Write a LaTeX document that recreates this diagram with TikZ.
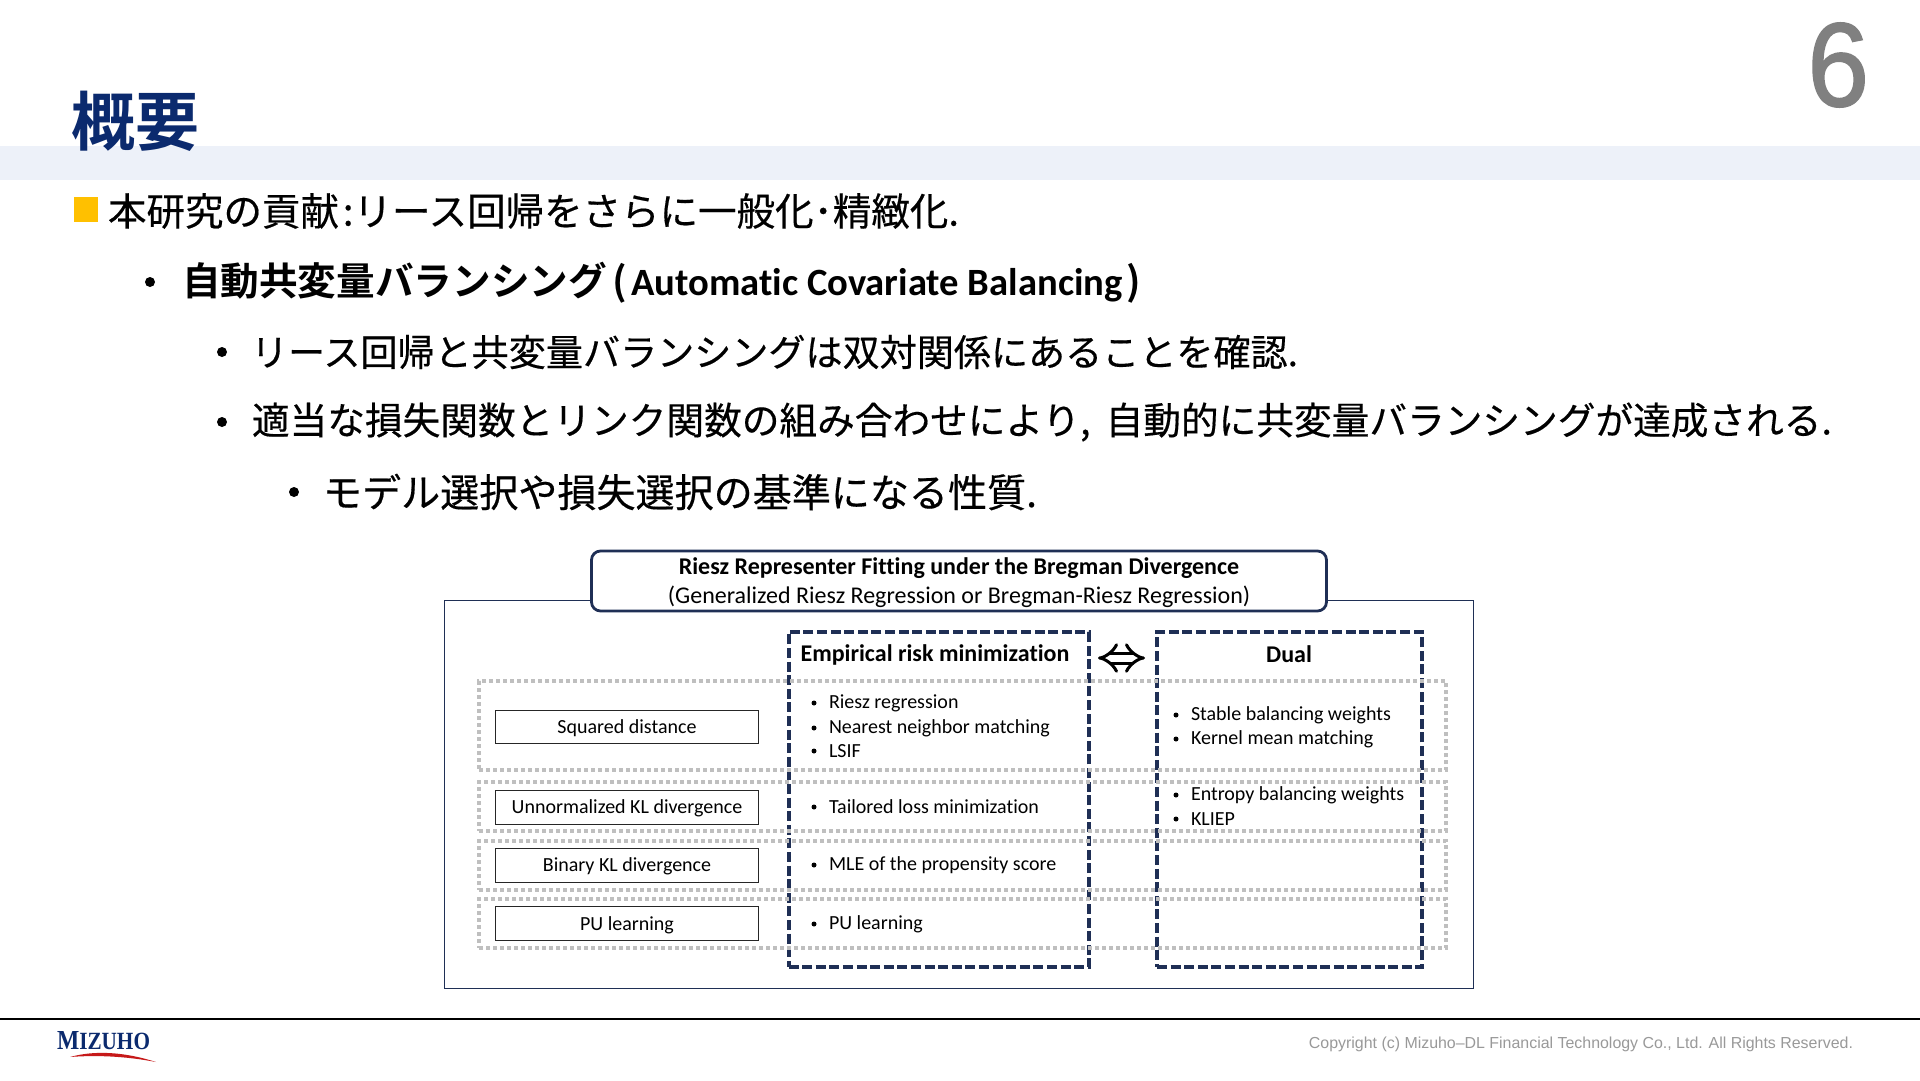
\documentclass[tikz,border=0pt]{standalone}
\usepackage{fontspec}
\usetikzlibrary{arrows.meta,positioning}
\setmainfont[Ligatures=NoCommon]{Carlito}
\newfontfamily\carb[Ligatures=NoCommon]{Carlito Bold}
\newfontfamily\jp[CharacterWidth=Proportional,FakeBold=0.4]{Noto Sans CJK JP}
\newfontfamily\jpb[CharacterWidth=Proportional]{Noto Sans CJK JP Bold}
\newfontfamily\arial{Liberation Sans}
\newfontfamily\sixf[FakeBold=1.5]{Liberation Sans}
\newfontfamily\logof{Liberation Serif}
\definecolor{navy}{HTML}{1F2F55}
\definecolor{titleblue}{HTML}{0B2A6E}
\definecolor{band}{HTML}{EDF1F9}
\definecolor{dotgray}{HTML}{BFBFBF}
\definecolor{gold}{HTML}{FFC000}
\newcommand{\fs}[1]{\fontsize{#1}{#1}\selectfont}
\newcommand{\W}[2]{\resizebox{#1pt}{!}{#2}}
\tikzset{
 x=1pt,y=-1pt,
 every node/.style={outer sep=0pt},
 bodyline/.style={anchor=west,inner sep=0pt,text=black},
 dotrow/.style={draw=dotgray,line width=4pt,dash pattern=on 4.2pt off 2.8pt},
 dualbox/.style={draw=navy,line width=4pt,dash pattern=on 10pt off 3.6pt},
 methodbox/.style={draw=black!85,line width=1pt,fill=white,minimum width=263pt,minimum height=33pt,inner sep=0pt,text height=16pt,text depth=2.4pt,font=\fs{20}},
 item/.style={anchor=west,inner sep=0pt,font=\fs{20}},
 dotb/.style={circle,fill=black,inner sep=0pt,minimum size=5pt},
 bigdot/.style={dotb,minimum size=10pt},
 headtext/.style={anchor=base,inner sep=0pt,font=\fs{24}},
}
\begin{document}
\begin{tikzpicture}
\useasboundingbox (0,0) rectangle (1920,1080);
\fill[white] (0,0) rectangle (1920,1080);
\fill[band] (0,146) rectangle (1920,180);
\node[anchor=west,inner sep=0pt,text=titleblue,font=\jpb\fs{64}] (title) at (71,121) {概要};
\node[anchor=east,inner sep=0pt,text=black!50,font=\sixf\fs{119},xscale=0.93] (page) at (1869,65) {6};
% bullets text
\fill[gold] (74,197) rectangle (98,222);
\node[bodyline] (l1) at (108,211) {\W{851}{\jp\fs{39}本研究の貢献\hspace{0.1em}:リース回帰をさらに一般化･精緻化.}};
\node[bigdot] (b2) at (150,282) {};
\node[bodyline] (l2) at (182,283) {\W{959}{\jpb\fs{39}自動共変量バランシング\hspace{0.15em}(\hspace{0.1em}\carb Automatic Covariate Balancing\hspace{0.1em}\jpb)}};
\node[bigdot] (b3) at (222,352) {};
\node[bodyline] (l3) at (251,352) {\W{1047}{\jp\fs{39}リース回帰と共変量バランシングは双対関係にあることを確認.}};
\node[bigdot] (b4) at (222,422) {};
\node[bodyline] (l4) at (252,422) {\W{1580}{\jp\fs{39}適当な損失関数とリンク関数の組み合わせにより,\hspace{0.4em}自動的に共変量バランシングが達成される.}};
\node[bigdot] (b5) at (294,492) {};
\node[bodyline] (l5) at (323,492) {\W{714}{\jp\fs{39}モデル選択や損失選択の基準になる性質.}};
% outer
\node[draw=navy,line width=1pt,minimum width=1029pt,minimum height=388pt,inner sep=0pt,anchor=north west] (outer) at (444.5,600) {};
\node[draw=navy,line width=2.8pt,rounded corners=9pt,fill=white,minimum width=735pt,minimum height=60pt,inner sep=0pt,anchor=north west] (head) at (591.5,551) {};
\node[headtext] (h1) at (959,574) {\textbf{Riesz Representer Fitting under the Bregman Divergence}};
\node[headtext] (h2) at (959,603) {(Generalized Riesz Regression or Bregman-Riesz Regression)};
% dashed columns
\node[dualbox,minimum width=300.5pt,minimum height=335pt,inner sep=0pt,anchor=north west] (erm) at (788.5,632) {};
\node[dualbox,minimum width=265pt,minimum height=335pt,inner sep=0pt,anchor=north west] (dual) at (1157,632) {};
% dotted rows
\node[dotrow,minimum width=967pt,minimum height=89pt,inner sep=0pt,anchor=north west] (r1) at (479,681) {};
\node[dotrow,minimum width=967pt,minimum height=49pt,inner sep=0pt,anchor=north west] (r2) at (479,782) {};
\node[dotrow,minimum width=967pt,minimum height=49pt,inner sep=0pt,anchor=north west] (r3) at (479,841) {};
\node[dotrow,minimum width=967pt,minimum height=49pt,inner sep=0pt,anchor=north west] (r4) at (479,899) {};
% heads
\node[font=\bfseries\fs{24},inner sep=0pt] (ermt) at (935,655) {Empirical risk minimization};
\node[font=\bfseries\fs{24},inner sep=0pt] (dualt) at (1289,654) {Dual};
\coordinate (al) at (1098,658);
\coordinate (ar) at (1145,658);
\draw[double,double distance=7pt,line width=3pt,{Implies}-{Implies}] (al) -- (ar);
% left boxes
\node[methodbox,anchor=north west] (m1) at (495.5,710) {Squared distance};
\node[methodbox,anchor=north west,minimum height=34pt] (m2) at (495.5,790) {Unnormalized KL divergence};
\node[methodbox,anchor=north west,minimum height=34pt] (m3) at (495.5,848) {Binary KL divergence};
\node[methodbox,anchor=north west,minimum height=34pt,line width=1.4pt] (m4) at (495.5,906.5) {PU learning};
% ERM items
\foreach \n/\y/\t in {e1/703/Riesz regression,e2/728/Nearest neighbor matching,e3/751/LSIF,e4/807/Tailored loss minimization,e5/865/MLE of the propensity score,e6/924/PU learning}{
 \node[dotb] (d\n) at (814,\y) {};
 \node[item] (\n) at (829,\y) {\t};
}
\foreach \n/\y/\t in {f1/715/Stable balancing weights,f2/739/Kernel mean matching,f3/795/Entropy balancing weights,f4/819/KLIEP}{
 \node[dotb] (d\n) at (1176,\y) {};
 \node[item] (\n) at (1191,\y) {\t};
}
% footer
\coordinate (fl) at (0,1019);
\coordinate (fr) at (1920,1019);
\draw[line width=1.2pt,black] (fl) -- (fr);
\node[anchor=west,inner sep=0pt,text=titleblue,font=\logof\bfseries] (logo) at (57,1041) {\resizebox{93pt}{18pt}{M\fs{9}IZUHO}};
\fill[red!75!black!90] (70,1057) .. controls (95,1050) and (125,1052) .. (156,1062) .. controls (125,1056) and (95,1055) .. (70,1057) -- cycle;
\node[anchor=east,inner sep=0pt,text=black!40,font=\arial] (copy) at (1853,1044) {\resizebox{544pt}{!}{\fs{16}Copyright (c) Mizuho–DL Financial Technology Co., Ltd. All Rights Reserved.}};
\end{tikzpicture}
\end{document}
